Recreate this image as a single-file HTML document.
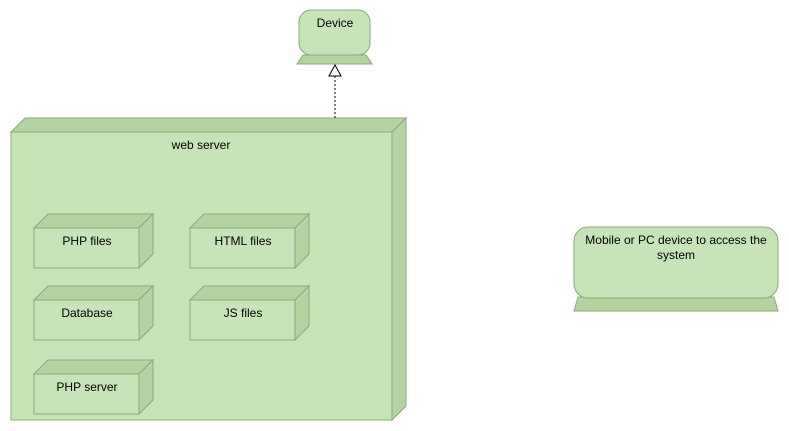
<!DOCTYPE html>
<html><head><style>body{margin:0;background:#fff}svg{display:block}text{font-family:"Liberation Sans",sans-serif;font-size:12px;fill:#000}</style></head><body>
<svg width="789" height="431" viewBox="0 0 789 431">
<g stroke="#8cab78" stroke-width="1">
<!-- Device -->
<polygon points="303,55 366,55 372,64 297,64" fill="#b3d3a0"/>
<rect x="299" y="10" width="71" height="45" rx="12" fill="#c6e4b7"/>
<!-- Mobile -->
<polygon points="578,297 774,297 778,311 574,311" fill="#b3d3a0"/>
<rect x="574" y="227" width="204" height="71" rx="14" fill="#c6e4b7"/>
<!-- web server -->
<polygon points="11,132 25,118 406,118 392,132" fill="#b3d3a0"/>
<polygon points="392,132 406,118 406,406 392,420" fill="#b3d3a0"/>
<rect x="11" y="132" width="381" height="288" fill="#c6e4b7"/>
</g>
<g stroke="#8cab78" stroke-width="1">
<g id="b">
<polygon points="34,228 48,214 153,214 139,228" fill="#b3d3a0"/>
<polygon points="139,228 153,214 153,254 139,268" fill="#b3d3a0"/>
<rect x="34" y="228" width="105" height="40" fill="#c6e4b7"/>
</g>
<use href="#b" x="156" y="0"/>
<use href="#b" x="0" y="72"/>
<use href="#b" x="156" y="72"/>
<use href="#b" x="0" y="146"/>
</g>
<line x1="335" y1="76" x2="335" y2="118" stroke="#000" stroke-dasharray="2,2"/>
<polygon points="335,65 329,76 341,76" fill="#fff" stroke="#000"/>
<text x="335" y="27" text-anchor="middle">Device</text>
<text x="201" y="149" text-anchor="middle">web server</text>
<text x="87" y="245" text-anchor="middle">PHP files</text>
<text x="243" y="245" text-anchor="middle">HTML files</text>
<text x="87" y="317" text-anchor="middle">Database</text>
<text x="243" y="317" text-anchor="middle">JS files</text>
<text x="87" y="391" text-anchor="middle">PHP server</text>
<text x="676" y="244" text-anchor="middle">Mobile or PC device to access the</text>
<text x="676" y="259" text-anchor="middle">system</text>
</svg>
</body></html>
